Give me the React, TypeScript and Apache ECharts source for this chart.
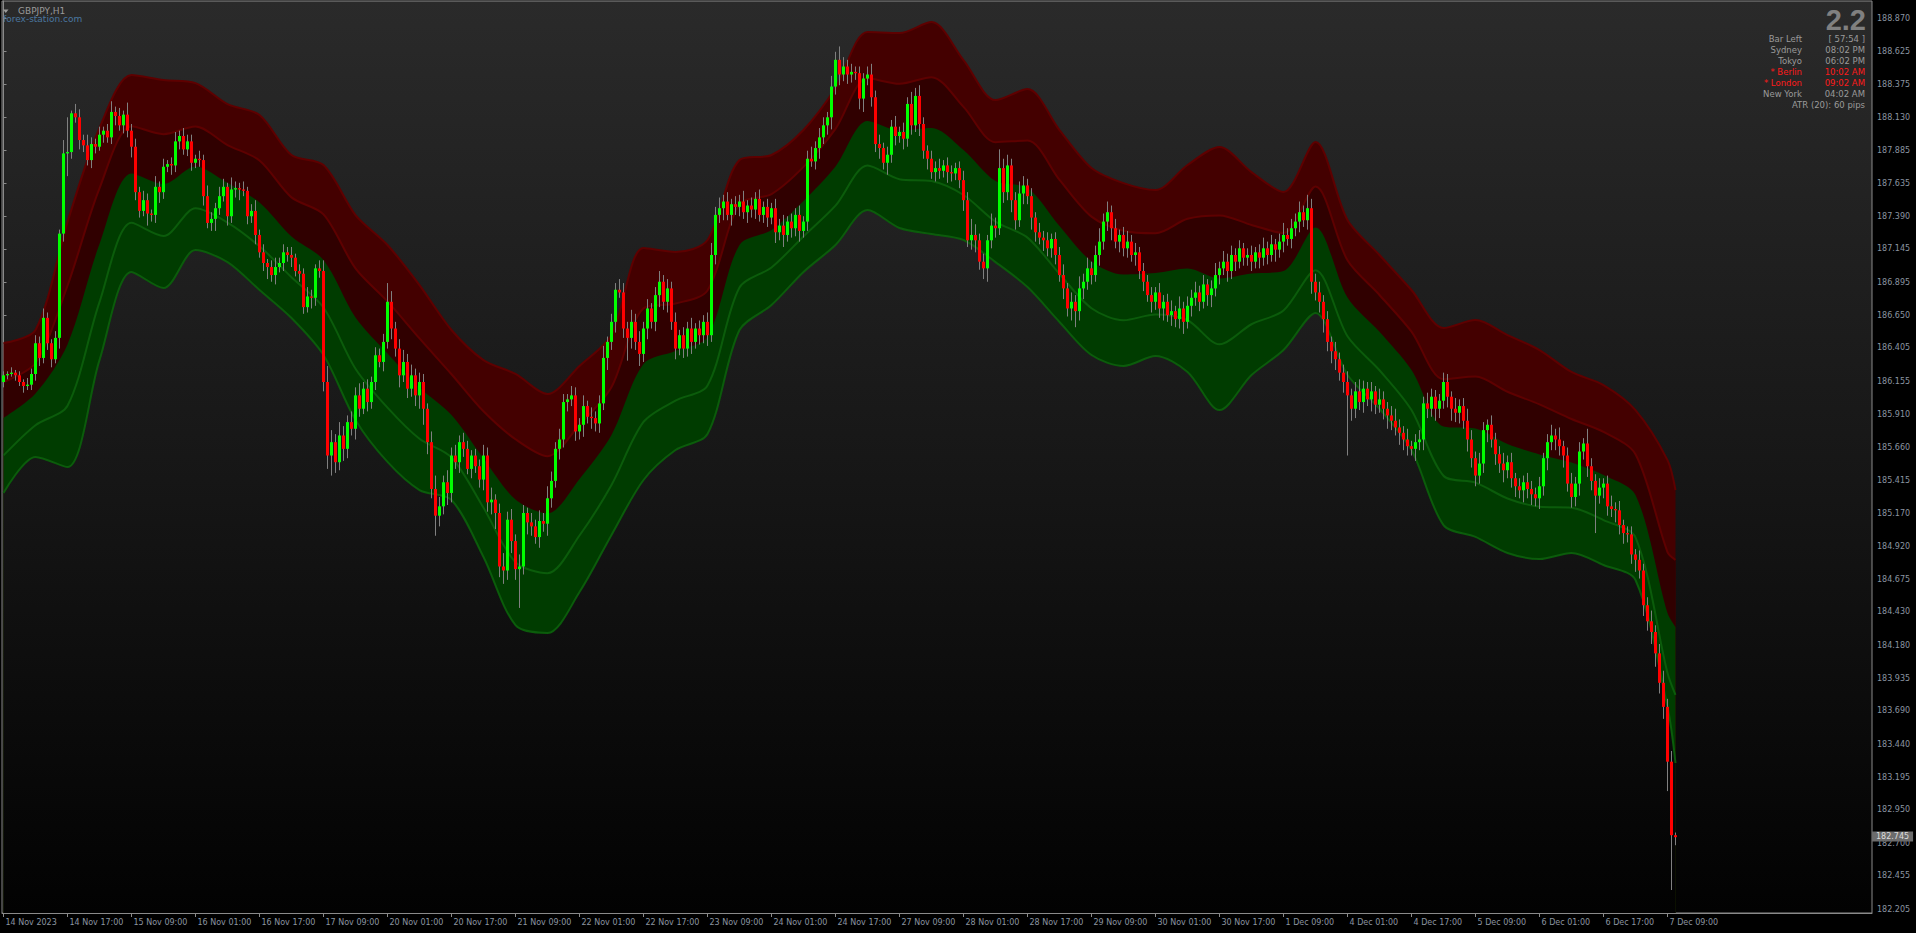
import React, { useEffect, useRef } from "react";
import * as echarts from "echarts";

// ---------- axis ticks ----------
const TIME_TICK_BARS = [0, 16, 32, 48, 64, 80, 96, 112, 128, 144, 160, 176, 192, 208, 224, 240, 256, 272, 288, 304, 320, 336, 352, 368, 384, 400, 416];
const TIME_TICK_LABELS = ["14 Nov 2023", "14 Nov 17:00", "15 Nov 09:00", "16 Nov 01:00", "16 Nov 17:00", "17 Nov 09:00", "20 Nov 01:00", "20 Nov 17:00", "21 Nov 09:00", "22 Nov 01:00", "22 Nov 17:00", "23 Nov 09:00", "24 Nov 01:00", "24 Nov 17:00", "27 Nov 09:00", "28 Nov 01:00", "28 Nov 17:00", "29 Nov 09:00", "30 Nov 01:00", "30 Nov 17:00", "1 Dec 09:00", "4 Dec 01:00", "4 Dec 17:00", "5 Dec 09:00", "6 Dec 01:00", "6 Dec 17:00", "7 Dec 09:00"];
const PRICE_TICKS = [182.205, 182.455, 182.7, 182.95, 183.195, 183.44, 183.69, 183.935, 184.18, 184.43, 184.675, 184.92, 185.17, 185.415, 185.66, 185.91, 186.155, 186.405, 186.65, 186.895, 187.145, 187.39, 187.635, 187.885, 188.13, 188.375, 188.625, 188.87];

// ---------- GBPJPY H1 closes, one array per trading day ----------
const FIRST_OPEN = 186.15;
const CLOSE_14NOV = [186.20, 186.21, 186.22, 186.20, 186.15, 186.12, 186.13, 186.21, 186.44, 186.33, 186.63, 186.44, 186.32, 186.48, 187.26, 187.86, 187.87, 188.16, 188.13, 187.96, 187.92, 187.81, 187.93];
const CLOSE_15NOV = [187.91, 188.00, 188.03, 187.98, 188.17, 188.14, 188.07, 188.15, 188.03, 187.91, 187.57, 187.43, 187.51, 187.41, 187.40, 187.61, 187.57, 187.76, 187.78, 187.77, 187.95, 187.99, 187.89, 187.95];
const CLOSE_16NOV = [187.79, 187.82, 187.81, 187.54, 187.34, 187.37, 187.45, 187.54, 187.61, 187.39, 187.59, 187.60, 187.59, 187.58, 187.39, 187.43, 187.25, 187.12, 187.04, 187.01, 186.95, 187.01, 187.04, 187.12];
const CLOSE_17NOV = [187.10, 187.08, 186.98, 186.96, 186.71, 186.79, 186.78, 187.00, 186.98, 186.15, 185.60, 185.70, 185.55, 185.75, 185.65, 185.85, 185.80, 186.05, 185.95, 186.10, 186.00, 186.15, 186.35, 186.30];
const CLOSE_20NOV = [186.45, 186.75, 186.55, 186.40, 186.20, 186.30, 186.10, 186.20, 186.05, 186.15, 185.95, 185.70, 185.35, 185.15, 185.22, 185.40, 185.32, 185.60, 185.55, 185.70, 185.65, 185.50, 185.60, 185.52];
const CLOSE_21NOV = [185.42, 185.60, 185.25, 185.27, 185.17, 184.77, 184.74, 185.12, 184.96, 184.75, 184.77, 185.17, 185.10, 185.07, 184.99, 185.11, 185.09, 185.28, 185.41, 185.65, 185.72, 186.00, 186.02, 186.05];
const CLOSE_22NOV = [185.78, 185.83, 185.97, 185.89, 185.88, 185.84, 185.99, 186.33, 186.45, 186.60, 186.84, 186.82, 186.55, 186.48, 186.60, 186.45, 186.36, 186.55, 186.70, 186.60, 186.80, 186.90, 186.75, 186.85];
const CLOSE_23NOV = [186.60, 186.40, 186.50, 186.40, 186.55, 186.45, 186.55, 186.50, 186.60, 186.50, 187.10, 187.40, 187.45, 187.50, 187.40, 187.48, 187.46, 187.50, 187.42, 187.47, 187.44, 187.52, 187.40, 187.46];
const CLOSE_24NOV = [187.38, 187.45, 187.27, 187.32, 187.25, 187.35, 187.30, 187.40, 187.28, 187.35, 187.82, 187.80, 187.90, 187.98, 188.07, 188.13, 188.36, 188.56, 188.45, 188.51, 188.45, 188.47, 188.46, 188.27];
const CLOSE_27NOV = [188.42, 188.45, 188.28, 187.93, 187.90, 187.79, 187.85, 188.06, 187.99, 188.02, 187.97, 188.23, 188.07, 188.29, 188.08, 187.88, 187.82, 187.72, 187.75, 187.73, 187.77, 187.72, 187.71, 187.75];
const CLOSE_28NOV = [187.66, 187.51, 187.21, 187.25, 187.21, 187.05, 187.00, 187.21, 187.32, 187.30, 187.75, 187.57, 187.77, 187.51, 187.36, 187.56, 187.62, 187.54, 187.38, 187.27, 187.23, 187.21, 187.15, 187.22];
const CLOSE_29NOV = [187.10, 186.95, 186.85, 186.70, 186.75, 186.68, 186.85, 186.90, 187.00, 186.95, 187.10, 187.20, 187.35, 187.42, 187.30, 187.20, 187.25, 187.15, 187.20, 187.10, 187.12, 186.98, 186.90, 186.80];
const CLOSE_30NOV = [186.75, 186.82, 186.70, 186.75, 186.65, 186.68, 186.62, 186.70, 186.60, 186.72, 186.78, 186.82, 186.75, 186.88, 186.80, 186.85, 186.95, 187.00, 187.05, 186.98, 187.10, 187.05, 187.15, 187.08];
const CLOSE_01DEC = [187.10, 187.05, 187.12, 187.08, 187.15, 187.10, 187.18, 187.14, 187.20, 187.25, 187.22, 187.30, 187.35, 187.42, 187.36, 187.45, 186.90, 186.82, 186.75, 186.62, 186.45, 186.38, 186.32, 186.22];
const CLOSE_04DEC = [186.15, 186.05, 185.95, 186.08, 186.00, 186.10, 186.02, 186.08, 185.98, 186.02, 185.95, 185.90, 185.86, 185.81, 185.77, 185.72, 185.67, 185.65, 185.70, 185.72, 185.99, 185.95, 186.04, 185.95];
const CLOSE_05DEC = [186.01, 186.15, 186.04, 185.95, 185.92, 185.97, 185.86, 185.72, 185.58, 185.45, 185.54, 185.79, 185.83, 185.72, 185.61, 185.54, 185.49, 185.55, 185.43, 185.37, 185.34, 185.40, 185.35, 185.31];
const CLOSE_06DEC = [185.28, 185.37, 185.58, 185.70, 185.75, 185.72, 185.67, 185.60, 185.39, 185.29, 185.39, 185.63, 185.69, 185.52, 185.41, 185.30, 185.36, 185.39, 185.22, 185.20, 185.19, 185.08, 185.02, 185.01];
const CLOSE_07DEC = [184.86, 184.82, 184.74, 184.48, 184.36, 184.28, 184.12, 183.90, 183.72, 183.31, 182.76, 182.745];

// upper / lower wick lengths in pips (0.01)
const UPWICK_14NOV = [3, 2, 4, 2, 3, 2, 5, 4, 6, 5, 7, 4, 3, 5, 3, 10, 26, 2, 7, 6, 4, 8, 5];
const UPWICK_15NOV = [4, 6, 3, 5, 8, 4, 6, 3, 9, 5, 6, 4, 7, 5, 3, 8, 4, 6, 3, 5, 7, 4, 6, 5];
const UPWICK_16NOV = [5, 3, 6, 4, 8, 5, 4, 7, 6, 3, 9, 5, 4, 6, 3, 5, 8, 4, 6, 3, 5, 7, 4, 6];
const UPWICK_17NOV = [4, 6, 3, 5, 4, 7, 5, 3, 6, 8, 12, 9, 6, 10, 7, 5, 8, 6, 9, 5, 7, 4, 6, 5];
const UPWICK_20NOV = [6, 14, 8, 5, 7, 9, 6, 8, 5, 7, 6, 4, 8, 10, 7, 5, 9, 6, 8, 5, 7, 6, 4, 5];
const UPWICK_21NOV = [5, 8, 6, 9, 4, 7, 10, 6, 8, 5, 9, 6, 4, 7, 5, 8, 6, 9, 7, 5, 8, 6, 4, 7];
const UPWICK_22NOV = [6, 5, 8, 4, 7, 5, 6, 9, 4, 6, 5, 8, 7, 5, 9, 6, 8, 5, 7, 4, 6, 8, 5, 7];
const UPWICK_23NOV = [5, 7, 4, 6, 5, 8, 4, 6, 5, 7, 9, 6, 8, 5, 7, 4, 6, 5, 8, 4, 6, 5, 7, 4];
const UPWICK_24NOV = [6, 4, 7, 5, 8, 4, 6, 5, 7, 4, 6, 9, 5, 7, 6, 4, 8, 6, 10, 7, 5, 6, 4, 5];
const UPWICK_27NOV = [4, 6, 8, 5, 7, 4, 6, 5, 8, 4, 7, 5, 9, 6, 8, 5, 4, 6, 5, 7, 4, 6, 5, 4];
const UPWICK_28NOV = [5, 7, 6, 12, 8, 5, 6, 4, 9, 6, 14, 7, 8, 5, 6, 9, 7, 5, 6, 4, 7, 5, 6, 4];
const UPWICK_29NOV = [5, 6, 8, 4, 7, 5, 9, 6, 8, 5, 7, 10, 6, 8, 5, 7, 4, 6, 8, 5, 7, 4, 6, 5];
const UPWICK_30NOV = [6, 4, 7, 5, 6, 8, 4, 9, 5, 7, 6, 8, 5, 7, 4, 6, 9, 5, 8, 6, 7, 5, 6, 4];
const UPWICK_01DEC = [5, 7, 4, 6, 8, 5, 7, 4, 6, 9, 5, 7, 6, 8, 5, 10, 7, 6, 8, 5, 6, 4, 7, 5];
const UPWICK_04DEC = [6, 8, 5, 7, 9, 6, 5, 7, 4, 8, 6, 5, 7, 9, 6, 5, 8, 4, 6, 7, 5, 8, 6, 5];
const UPWICK_05DEC = [5, 7, 6, 4, 8, 5, 6, 9, 7, 5, 8, 6, 4, 7, 5, 6, 8, 5, 7, 4, 6, 5, 7, 6];
const UPWICK_06DEC = [5, 7, 4, 6, 8, 5, 9, 4, 6, 8, 5, 7, 4, 11, 6, 5, 7, 4, 6, 8, 5, 7, 4, 5];
const UPWICK_07DEC = [6, 4, 7, 5, 6, 8, 5, 7, 9, 6, 8, 2];

const LOWICK_14NOV = [4, 3, 2, 4, 3, 5, 3, 4, 5, 6, 4, 5, 6, 3, 8, 6, 17, 5, 4, 7, 5, 4, 6];
const LOWICK_15NOV = [5, 3, 6, 4, 5, 7, 4, 6, 5, 8, 6, 5, 4, 9, 5, 6, 8, 5, 4, 7, 5, 6, 4, 5];
const LOWICK_16NOV = [6, 4, 5, 7, 4, 6, 9, 5, 4, 7, 5, 6, 8, 4, 6, 5, 7, 4, 6, 9, 5, 7, 4, 6];
const LOWICK_17NOV = [5, 7, 4, 6, 5, 4, 8, 6, 5, 7, 10, 15, 8, 6, 9, 7, 5, 8, 6, 4, 7, 5, 6, 4];
const LOWICK_20NOV = [7, 5, 8, 6, 9, 5, 7, 6, 8, 10, 12, 9, 7, 15, 8, 6, 9, 7, 5, 8, 6, 4, 7, 5];
const LOWICK_21NOV = [6, 8, 7, 9, 12, 8, 10, 7, 9, 8, 29, 6, 9, 7, 5, 8, 6, 9, 7, 5, 8, 6, 7, 5];
const LOWICK_22NOV = [7, 6, 9, 5, 8, 6, 7, 5, 9, 6, 8, 4, 7, 17, 8, 6, 9, 6, 8, 5, 7, 9, 6, 8];
const LOWICK_23NOV = [6, 8, 5, 7, 6, 9, 5, 7, 6, 8, 5, 7, 6, 9, 4, 8, 6, 7, 5, 8, 6, 7, 5, 6];
const LOWICK_24NOV = [7, 5, 8, 6, 9, 5, 7, 6, 8, 5, 7, 4, 6, 8, 5, 7, 9, 6, 8, 5, 7, 6, 5, 8];
const LOWICK_27NOV = [10, 5, 7, 6, 8, 5, 9, 6, 7, 5, 8, 6, 7, 5, 9, 6, 8, 5, 7, 6, 5, 8, 6, 5];
const LOWICK_28NOV = [6, 8, 5, 7, 9, 6, 8, 10, 6, 7, 5, 8, 6, 9, 7, 5, 8, 6, 9, 7, 5, 8, 6, 7];
const LOWICK_29NOV = [7, 5, 8, 6, 9, 12, 7, 8, 6, 7, 5, 8, 6, 7, 9, 5, 8, 6, 7, 5, 8, 6, 7, 5];
const LOWICK_30NOV = [8, 6, 7, 9, 5, 8, 6, 7, 9, 5, 8, 6, 7, 5, 8, 9, 6, 7, 5, 8, 6, 7, 5, 6];
const LOWICK_01DEC = [6, 7, 5, 8, 6, 7, 5, 9, 6, 8, 5, 7, 6, 8, 5, 7, 9, 6, 8, 10, 7, 9, 8, 6];
const LOWICK_04DEC = [8, 45, 9, 7, 6, 8, 5, 9, 7, 6, 8, 10, 7, 6, 9, 8, 7, 5, 9, 6, 8, 7, 6, 9];
const LOWICK_05DEC = [7, 6, 8, 9, 7, 8, 6, 9, 7, 8, 6, 7, 9, 6, 8, 7, 9, 6, 7, 8, 6, 9, 7, 8];
const LOWICK_06DEC = [6, 8, 7, 9, 6, 8, 7, 9, 6, 8, 7, 9, 6, 8, 7, 28, 6, 8, 7, 6, 9, 7, 8, 6];
const LOWICK_07DEC = [7, 9, 6, 8, 7, 9, 10, 8, 9, 22, 41, 6];

// ---------- envelope bands (sampled bars) ----------
const BAND_BARS = [0, 8, 16, 24, 32, 40, 48, 56, 64, 72, 80, 88, 96, 104, 112, 120, 128, 136, 144, 152, 160, 168, 176, 184, 192, 200, 208, 216, 224, 232, 240, 248, 256, 264, 272, 280, 288, 296, 304, 312, 320, 328, 336, 344, 352, 360, 368, 376, 384, 392, 400, 408, 416, 418];
const BAND_TOP = [186.442, 186.539, 187.347, 188.050, 188.446, 188.409, 188.386, 188.229, 188.147, 187.848, 187.773, 187.399, 187.175, 186.875, 186.539, 186.314, 186.210, 186.060, 186.270, 186.501, 187.152, 187.122, 187.212, 187.810, 187.848, 188.035, 188.349, 188.768, 188.760, 188.842, 188.558, 188.259, 188.341, 188.035, 187.751, 187.638, 187.586, 187.773, 187.908, 187.720, 187.571, 187.945, 187.362, 187.100, 186.838, 186.554, 186.613, 186.501, 186.389, 186.225, 186.127, 185.940, 185.566, 185.342];
const BAND_UPPER = [186.150, 186.292, 186.870, 187.599, 188.063, 188.004, 188.061, 187.922, 187.807, 187.531, 187.404, 187.000, 186.753, 186.476, 186.208, 185.931, 185.722, 185.595, 185.830, 186.112, 186.701, 186.737, 186.835, 187.480, 187.556, 187.759, 188.044, 188.422, 188.381, 188.430, 188.208, 187.944, 187.956, 187.662, 187.387, 187.282, 187.263, 187.371, 187.396, 187.325, 187.264, 187.612, 187.060, 186.801, 186.527, 186.171, 186.191, 186.077, 185.983, 185.873, 185.777, 185.610, 184.878, 184.819];
const BAND_MID = [185.881, 186.064, 186.431, 187.182, 187.710, 187.631, 187.762, 187.638, 187.493, 187.239, 187.063, 186.633, 186.364, 186.109, 185.903, 185.578, 185.271, 185.167, 185.425, 185.754, 186.285, 186.382, 186.487, 187.175, 187.287, 187.504, 187.762, 188.102, 188.031, 188.050, 187.885, 187.653, 187.601, 187.317, 187.052, 186.954, 186.965, 186.999, 186.924, 186.961, 186.980, 187.306, 186.782, 186.525, 186.240, 185.817, 185.802, 185.686, 185.608, 185.548, 185.454, 185.305, 184.422, 184.317];
const BAND_LOWER = [185.601, 185.827, 185.972, 186.748, 187.341, 187.242, 187.449, 187.343, 187.165, 186.934, 186.707, 186.249, 185.958, 185.725, 185.585, 185.209, 184.802, 184.720, 185.002, 185.380, 185.851, 186.011, 186.124, 186.857, 187.007, 187.239, 187.469, 187.769, 187.667, 187.653, 187.549, 187.350, 187.230, 186.958, 186.702, 186.612, 186.655, 186.612, 186.432, 186.582, 186.685, 186.986, 186.492, 186.238, 185.940, 185.449, 185.397, 185.279, 185.217, 185.210, 185.117, 184.987, 183.973, 183.809];
const BAND_BOTTOM = [185.320, 185.589, 185.514, 186.314, 186.973, 186.853, 187.137, 187.047, 186.838, 186.629, 186.352, 185.866, 185.552, 185.342, 185.267, 184.841, 184.332, 184.273, 184.579, 185.006, 185.417, 185.641, 185.761, 186.539, 186.726, 186.973, 187.175, 187.436, 187.302, 187.257, 187.212, 187.047, 186.860, 186.599, 186.352, 186.270, 186.344, 186.225, 185.940, 186.202, 186.389, 186.666, 186.202, 185.950, 185.641, 185.080, 184.991, 184.871, 184.826, 184.871, 184.781, 184.669, 183.719, 183.300];

// ---------- on-chart texts ----------
const SYMBOL_TITLE = "GBPJPY,H1";
const WATERMARK = "forex-station.com";
const SPREAD_TEXT = "2.2";
const INFO_LABELS = ["Bar Left", "Sydney", "Tokyo", "* Berlin", "* London", "New York"];
const INFO_VALUES = ["[ 57:54 ]", "08:02 PM", "06:02 PM", "10:02 AM", "09:02 AM", "04:02 AM"];
const INFO_ACTIVE = [false, false, false, true, true, false];
const ATR_TEXT = "ATR (20): 60 pips";

const CLOSES = [
  ...CLOSE_14NOV, ...CLOSE_15NOV, ...CLOSE_16NOV, ...CLOSE_17NOV, ...CLOSE_20NOV, ...CLOSE_21NOV,
  ...CLOSE_22NOV, ...CLOSE_23NOV, ...CLOSE_24NOV, ...CLOSE_27NOV, ...CLOSE_28NOV, ...CLOSE_29NOV,
  ...CLOSE_30NOV, ...CLOSE_01DEC, ...CLOSE_04DEC, ...CLOSE_05DEC, ...CLOSE_06DEC, ...CLOSE_07DEC,
];
const UPWICKS = [
  ...UPWICK_14NOV, ...UPWICK_15NOV, ...UPWICK_16NOV, ...UPWICK_17NOV, ...UPWICK_20NOV, ...UPWICK_21NOV,
  ...UPWICK_22NOV, ...UPWICK_23NOV, ...UPWICK_24NOV, ...UPWICK_27NOV, ...UPWICK_28NOV, ...UPWICK_29NOV,
  ...UPWICK_30NOV, ...UPWICK_01DEC, ...UPWICK_04DEC, ...UPWICK_05DEC, ...UPWICK_06DEC, ...UPWICK_07DEC,
];
const LOWICKS = [
  ...LOWICK_14NOV, ...LOWICK_15NOV, ...LOWICK_16NOV, ...LOWICK_17NOV, ...LOWICK_20NOV, ...LOWICK_21NOV,
  ...LOWICK_22NOV, ...LOWICK_23NOV, ...LOWICK_24NOV, ...LOWICK_27NOV, ...LOWICK_28NOV, ...LOWICK_29NOV,
  ...LOWICK_30NOV, ...LOWICK_01DEC, ...LOWICK_04DEC, ...LOWICK_05DEC, ...LOWICK_06DEC, ...LOWICK_07DEC,
];

const AXIS_FONT = "DejaVu Sans";
const AXIS_COLOR = "#8b95a1";
const FRAME_COLOR = "#8a8a8a";

function buildOption() {
  const candles = CLOSES.map((c, i) => {
    const o = i === 0 ? FIRST_OPEN : CLOSES[i - 1];
    const h = Math.max(o, c) + UPWICKS[i] / 100;
    const l = Math.min(o, c) - LOWICKS[i] / 100;
    return [i, o, c, l, h];
  });
  const lastIndex = CLOSES.length - 1;
  const lastClose = CLOSES[lastIndex];

  const bg = {
    type: "linear", x: 0, y: 1, x2: 0, y2: 913, global: true,
    colorStops: [
      { offset: 0, color: "#2a2a2a" },
      { offset: 0.5, color: "#171717" },
      { offset: 1, color: "#020202" },
    ],
  };

  const band = (vals: number[], line: string | null, fill: any, z: number) => ({
    type: "line",
    z,
    data: BAND_BARS.map((b, k) => [b, vals[k]]),
    showSymbol: false,
    smooth: 0.3,
    silent: true,
    lineStyle: line ? { color: line, width: 2 } : { width: 0, opacity: 0 },
    areaStyle: fill ? { color: fill, origin: "start", opacity: 1 } : undefined,
  });

  const txt = (text: string, x: number, y: number, fill: string, font: string, align = "left") => ({
    type: "text", x, y, silent: true, z: 100,
    style: { text, fill, font, textAlign: align, textVerticalAlign: "middle", align, verticalAlign: "middle" },
  });

  const graphics: any[] = [
    { type: "polygon", silent: true, z: 100, shape: { points: [[3, 9.5], [8.5, 9.5], [5.75, 13]] }, style: { fill: "#9a9a9a" } },
    txt(SYMBOL_TITLE, 18, 11, "#9a9a9a", `9px "${AXIS_FONT}"`),
    txt(WATERMARK, 3, 18.5, "#4a77a0", `9px "${AXIS_FONT}"`),
    txt(SPREAD_TEXT, 1866, 19.5, "#808080", `bold 29px "Liberation Sans"`, "right"),
  ];
  INFO_LABELS.forEach((lab, k) => {
    const col = INFO_ACTIVE[k] ? "#ff1a1a" : "#9a9a9a";
    const y = 38.7 + k * 11;
    graphics.push(txt(lab, 1802, y, col, `8.5px "${AXIS_FONT}"`, "right"));
    graphics.push(txt(INFO_VALUES[k], 1865, y, col, `8.5px "${AXIS_FONT}"`, "right"));
  });
  graphics.push(txt(ATR_TEXT, 1865, 38.7 + 6 * 11, "#9a9a9a", `8.5px "${AXIS_FONT}"`, "right"));

  return {
    animation: false,
    backgroundColor: "#000000",
    grid: {
      left: 2, top: 1, width: 1870, height: 912,
      show: true, borderColor: FRAME_COLOR, borderWidth: 1, backgroundColor: bg,
    },
    xAxis: {
      type: "value", min: -0.375, max: 467.125, position: "bottom",
      axisLine: { show: true, lineStyle: { color: FRAME_COLOR } },
      axisTick: { show: true, length: 4, lineStyle: { color: FRAME_COLOR }, customValues: TIME_TICK_BARS },
      axisLabel: {
        customValues: TIME_TICK_BARS,
        formatter: (v: number) => TIME_TICK_LABELS[TIME_TICK_BARS.indexOf(Math.round(v))] ?? "",
        color: AXIS_COLOR, fontFamily: AXIS_FONT, fontSize: 8, align: "left", margin: 5, padding: [0, 0, 0, 2],
      },
      splitLine: { show: false },
    },
    yAxis: {
      type: "value", position: "right", min: 182.178, max: 189.0, scale: true,
      axisLine: { show: true, lineStyle: { color: FRAME_COLOR } },
      axisTick: { show: true, length: 3, lineStyle: { color: FRAME_COLOR }, customValues: PRICE_TICKS },
      axisLabel: {
        customValues: PRICE_TICKS,
        formatter: (v: number) => v.toFixed(3),
        color: AXIS_COLOR, fontFamily: AXIS_FONT, fontSize: 8, margin: 5,
      },
      splitLine: { show: false },
    },
    graphic: graphics,
    series: [
      band(BAND_TOP, "#5e0000", "#440000", 1),
      band(BAND_UPPER, "#5e0000", "#300000", 2),
      band(BAND_MID, null, "#003c00", 3),
      band(BAND_LOWER, "#0b5c0b", null, 4),
      band(BAND_BOTTOM, "#0b5c0b", bg, 5),
      {
        type: "custom",
        z: 10,
        data: candles,
        encode: { x: 0, y: [1, 2, 3, 4] },
        silent: true,
        clip: true,
        renderItem: (params: any, api: any) => {
          const i = api.value(0);
          const o = api.value(1);
          const c = api.value(2);
          const l = api.value(3);
          const h = api.value(4);
          const pO = api.coord([i, o]);
          const x = pO[0];
          const yO = pO[1];
          const yC = api.coord([i, c])[1];
          const yL = api.coord([i, l])[1];
          const yH = api.coord([i, h])[1];
          const top = Math.min(yO, yC);
          const bot = Math.max(yO, yC);
          const up = c >= o;
          return {
            type: "group",
            children: [
              { type: "line", z2: 1, shape: { x1: x, y1: yH, x2: x, y2: yL }, style: { stroke: "#808080", lineWidth: 1 } },
              { type: "rect", z2: 2, shape: { x: x - 1.5, y: top, width: 3, height: Math.max(1, bot - top) }, style: { fill: up ? "#00ff00" : "#ff0000" } },
            ],
          };
        },
      },
      {
        type: "line",
        z: 20,
        data: [[lastIndex, lastClose]],
        showSymbol: false,
        silent: true,
        lineStyle: { width: 1, color: "rgba(0,0,0,0)" },
        markLine: {
          silent: true,
          symbol: ["none", "none"],
          lineStyle: { width: 1, color: "rgba(0,0,0,0)", type: "solid" },
          data: [{ yAxis: lastClose }],
          label: {
            show: true, position: "end", distance: 0, opacity: 1,
            formatter: () => lastClose.toFixed(3),
            color: "#dcdcdc", backgroundColor: "#6c6c6c", padding: [1, 4, 1, 4],
            fontFamily: AXIS_FONT, fontSize: 8,
          },
        },
      },
    ],
  };
}

export default function App() {
  const ref = useRef<HTMLDivElement>(null);
  useEffect(() => {
    document.body.style.margin = "0";
    document.body.style.background = "#000";
    const chart = echarts.init(ref.current!, null, { renderer: "svg" });
    chart.setOption(buildOption() as any);
    return () => chart.dispose();
  }, []);
  return <div ref={ref} style={{ width: 1916, height: 933 }} />;
}
